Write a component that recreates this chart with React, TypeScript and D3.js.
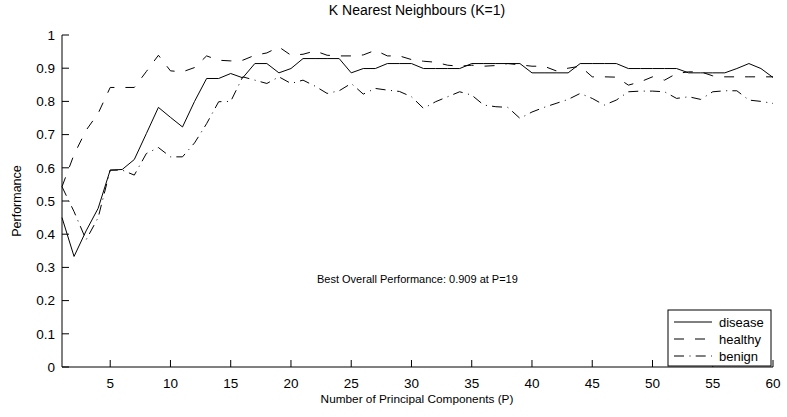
import React from "react";
import * as d3 from "d3";

const P: number[] = d3.range(1, 61);

const disease: number[] = [
  0.45, 0.333, 0.41, 0.478, 0.593, 0.595, 0.625, 0.703, 0.782, 0.752,
  0.723, 0.8, 0.869, 0.869, 0.884, 0.871, 0.914, 0.914, 0.886, 0.899,
  0.929, 0.929, 0.929, 0.929, 0.886, 0.899, 0.899, 0.914, 0.914, 0.914,
  0.899, 0.899, 0.899, 0.899, 0.914, 0.914, 0.914, 0.914, 0.914, 0.886,
  0.886, 0.886, 0.886, 0.914, 0.914, 0.914, 0.914, 0.899, 0.899, 0.899,
  0.899, 0.899, 0.886, 0.886, 0.886, 0.886, 0.899, 0.914, 0.899, 0.872,
];

const healthy: number[] = [
  0.543, 0.64, 0.713, 0.764, 0.842, 0.842, 0.842, 0.89, 0.939, 0.892,
  0.889, 0.902, 0.937, 0.924, 0.922, 0.924, 0.939, 0.946, 0.964, 0.939,
  0.942, 0.952, 0.939, 0.937, 0.937, 0.94, 0.954, 0.937, 0.937, 0.926,
  0.921, 0.918, 0.909, 0.906, 0.909, 0.906, 0.908, 0.914, 0.91, 0.906,
  0.906, 0.892, 0.9, 0.906, 0.874, 0.874, 0.873, 0.849, 0.859, 0.874,
  0.864, 0.884, 0.889, 0.889, 0.877, 0.874, 0.874, 0.874, 0.874, 0.874,
];

const benign: number[] = [
  0.543, 0.468, 0.383, 0.45, 0.593, 0.593, 0.578, 0.643, 0.661, 0.633,
  0.633, 0.675, 0.733, 0.799, 0.8, 0.874, 0.864, 0.854, 0.874, 0.854,
  0.864, 0.846, 0.824, 0.832, 0.854, 0.822, 0.839, 0.834, 0.83, 0.814,
  0.779, 0.799, 0.814, 0.829, 0.819, 0.789, 0.784, 0.782, 0.749, 0.768,
  0.782, 0.794, 0.806, 0.824, 0.809, 0.789, 0.804, 0.829, 0.831, 0.831,
  0.829, 0.809, 0.814, 0.806, 0.829, 0.832, 0.832, 0.804, 0.8, 0.794,
];

const seriesNames: string[] = ["disease", "healthy", "benign"];
const xTicks: number[] = [5, 10, 15, 20, 25, 30, 35, 40, 45, 50, 55, 60];
const yTicks: number[] = [0, 0.1, 0.2, 0.3, 0.4, 0.5, 0.6, 0.7, 0.8, 0.9, 1];
const title = "K Nearest Neighbours (K=1)";
const xLabel = "Number of Principal Components (P)";
const yLabel = "Performance";
const annotation = "Best Overall Performance: 0.909 at P=19";

const W = 787;
const H = 417;
const left = 62;
const right = 773;
const top = 35;
const bottom = 367;
const FONT = "'Liberation Sans', Arial, Helvetica, sans-serif";
const dashes = ["none", "10,11", "10,5.5,1,5.2"];

export default function App() {
  const x = d3.scaleLinear().domain([1, 60]).range([left, right]);
  const y = d3.scaleLinear().domain([0, 1]).range([bottom, top]);
  const line = d3
    .line<number>()
    .x((_, i) => x(P[i]))
    .y((v) => y(v));
  const all = [disease, healthy, benign];
  const tickLen = 7;
  const legX = 668, legY = 310, legW = 103, legH = 56;

  return (
    <svg
      width={W}
      height={H}
      style={{ position: "absolute", left: 0, top: 0, background: "#fff" }}
      fontFamily={FONT}
      fontSize={12}
    >
      <rect x={0} y={0} width={W} height={H} fill="#fff" />
      {/* axes */}
      <line x1={left} x2={left} y1={top} y2={bottom} stroke="#000" strokeWidth={1} />
      <line x1={left} x2={right} y1={bottom} y2={bottom} stroke="#000" strokeWidth={1} />
      {yTicks.map((t) => (
        <g key={"y" + t}>
          <line x1={left} x2={left + tickLen} y1={y(t)} y2={y(t)} stroke="#000" />
          <text x={left - 7} y={y(t)} dy="0.35em" textAnchor="end" fill="#000" fontSize={13.5}>
            {d3.format("")(t)}
          </text>
        </g>
      ))}
      {xTicks.map((t) => (
        <g key={"x" + t}>
          <line x1={x(t)} x2={x(t)} y1={bottom} y2={bottom - tickLen} stroke="#000" />
          <text x={x(t)} y={bottom + 16} dy="0.35em" textAnchor="middle" fill="#000" fontSize={13.5}>
            {t}
          </text>
        </g>
      ))}
      {/* series */}
      {all.map((s, i) => (
        <path
          key={seriesNames[i]}
          d={line(s) || ""}
          fill="none"
          stroke="#000"
          strokeWidth={1}
          strokeDasharray={dashes[i]}
        />
      ))}
      {/* texts */}
      <text x={417} y={10} dy="0.35em" textAnchor="middle" fill="#000" fontSize={14}>
        {title}
      </text>
      <text x={417} y={399} dy="0.35em" textAnchor="middle" fill="#000" fontSize={11.8}>
        {xLabel}
      </text>
      <text
        transform={`translate(17,${(top + bottom) / 2}) rotate(-90)`}
        dy="0.35em"
        textAnchor="middle"
        fill="#000"
        fontSize={12.5}
      >
        {yLabel}
      </text>
      <text x={317} y={279} dy="0.35em" fill="#000" fontSize={11}>
        {annotation}
      </text>
      {/* legend */}
      <rect x={legX} y={legY} width={legW} height={legH} fill="#fff" stroke="#000" strokeWidth={1} />
      {seriesNames.map((n, i) => (
        <g key={"leg" + n}>
          <line
            x1={legX + 6}
            x2={legX + 44}
            y1={legY + 12 + i * 17}
            y2={legY + 12 + i * 17}
            stroke="#000"
            strokeDasharray={dashes[i]}
          />
          <text x={legX + 51} y={legY + 12 + i * 17} dy="0.35em" fill="#000" fontSize={13}>
            {n}
          </text>
        </g>
      ))}
    </svg>
  );
}
